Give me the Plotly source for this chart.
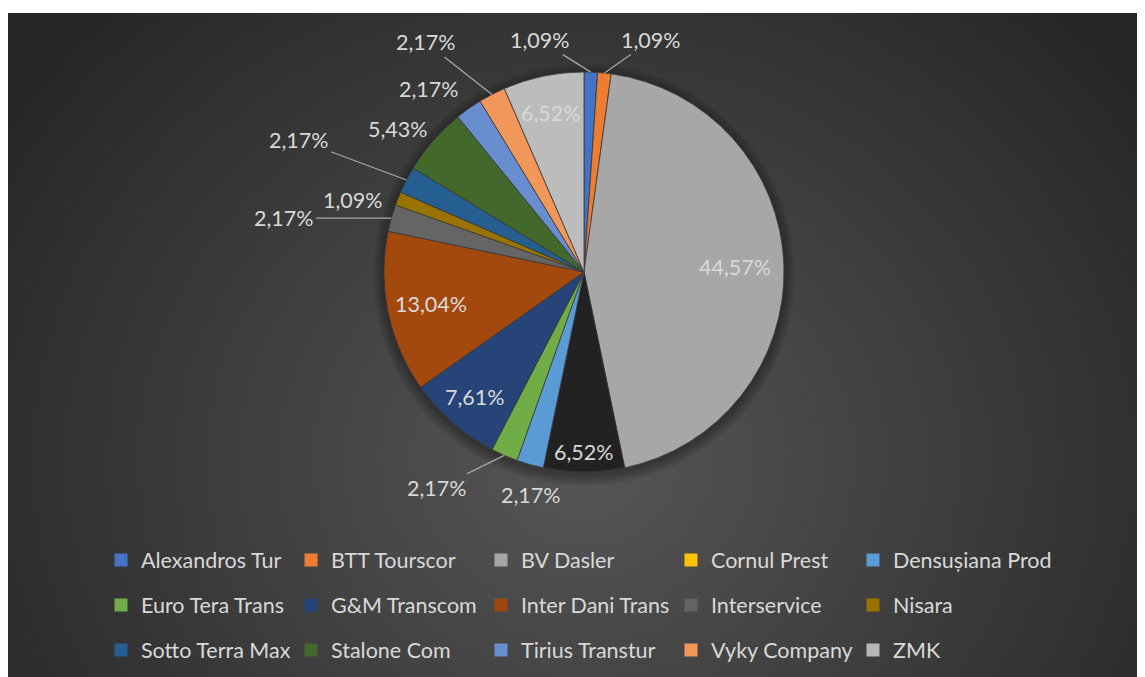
import base64
import math
import struct
import zlib

import numpy as np
import plotly.graph_objects as go

companies = ["Alexandros Tur", "BTT Tourscor", "BV Dasler", "Cornul Prest", "Densușiana Prod",
             "Euro Tera Trans", "G&M Transcom", "Inter Dani Trans", "Interservice", "Nisara",
             "Sotto Terra Max", "Stalone Com", "Tirius Transtur", "Vyky Company", "ZMK"]
counts = [1, 1, 41, 6, 2, 2, 7, 12, 2, 1, 2, 5, 2, 2, 6]
slice_colors = ["#4472C4", "#ED7D31", "#A7A7A7", "#222222", "#5B9BD5",
                "#70AD47", "#264478", "#A3490E", "#656565", "#997300",
                "#255E91", "#43682B", "#698ED0", "#F1975A", "#BCBCBC"]
legend_colors = ["#4472C4", "#ED7D31", "#A5A5A5", "#FFC000", "#5B9BD5",
                 "#70AD47", "#264478", "#9E480E", "#636363", "#997300",
                 "#255E91", "#43682B", "#698ED0", "#F1975A", "#B7B7B7"]

# label placement (style): inside labels -> fraction of radius along slice middle,
# outside labels -> pixel offset from the slice edge, with / without leader line
inside_r = {"BV Dasler": 0.755, "Cornul Prest": 0.9, "G&M Transcom": 0.83,
            "Inter Dani Trans": 0.78, "ZMK": 0.81}
outside_off = {"Alexandros Tur": (-51, -32, True), "BTT Tourscor": (47, -33, True),
               "Densușiana Prod": (1, 30, False), "Euro Tera Trans": (-67, 33, True),
               "Interservice": (-107, 0, True), "Nisara": (-45, 1, False),
               "Sotto Terra Max": (-107, -40, True), "Stalone Com": (-35, -12, False),
               "Tirius Transtur": (-40, -20, False), "Vyky Company": (-66, -52, True)}

TXT = "#D9D9D9"
FONT = "Lato"
W, H = 1145, 677
CX, CY, R = 576, 264, 200   # pie centre / radius in figure pixels


def background_png(w=229, h=133):
    # radial dark-grey gradient like the Excel chart style
    yy, xx = np.mgrid[0:h, 0:w]
    cx, cy = 0.50 * w, 0.66 * h
    d = np.sqrt(((xx - cx) / (0.62 * w)) ** 2 + ((yy - cy) / (0.95 * h)) ** 2)
    v = np.clip(0x57 - (0x57 - 0x26) * d, 0x26, 0x57).astype(np.uint8)
    rgb = np.stack([v, v, v], axis=-1)
    raw = b"".join(b"\x00" + rgb[r].tobytes() for r in range(h))

    def chunk(tag, data):
        c = struct.pack(">I", len(data)) + tag + data
        return c + struct.pack(">I", zlib.crc32(tag + data) & 0xFFFFFFFF)

    png = (b"\x89PNG\r\n\x1a\n" + chunk(b"IHDR", struct.pack(">IIBBBBB", w, h, 8, 2, 0, 0, 0))
           + chunk(b"IDAT", zlib.compress(raw, 9)) + chunk(b"IEND", b""))
    return "data:image/png;base64," + base64.b64encode(png).decode()


fig = go.Figure()

fig.add_trace(go.Pie(
    labels=companies,
    values=counts,
    sort=False,
    direction="clockwise",
    rotation=0,
    marker=dict(colors=slice_colors, line=dict(color="#3a3a3a", width=0.8)),
    textinfo="none",
    domain=dict(x=[(CX - R) / W, (CX + R) / W], y=[1 - (CY + R) / H, 1 - (CY - R) / H]),
    showlegend=False,
    hoverinfo="label+percent",
))

# data labels, placed from each slice's middle angle
total = sum(counts)
annotations = []
cum = 0
for name, c in zip(companies, counts):
    mid = (cum + c / 2) / total * 2 * math.pi
    cum += c
    txt = f"{c / total * 100:.2f}%".replace(".", ",")
    if name in inside_r:
        f = inside_r[name]
        px_, py_ = CX + f * R * math.sin(mid), CY - f * R * math.cos(mid)
        annotations.append(dict(x=px_ / W, y=1 - py_ / H, xref="paper", yref="paper",
                                text=txt, showarrow=False, xanchor="center", yanchor="middle",
                                font=dict(family=FONT, size=21.5, color=TXT)))
    else:
        dx, dy, line = outside_off[name]
        px_, py_ = CX + R * math.sin(mid), CY - R * math.cos(mid)
        annotations.append(dict(x=px_ / W, y=1 - py_ / H, xref="paper", yref="paper",
                                text=txt, showarrow=True, ax=dx, ay=dy,
                                arrowhead=0, arrowwidth=1.3, standoff=0,
                                arrowcolor="#A6A6A6" if line else "rgba(0,0,0,0)",
                                font=dict(family=FONT, size=21.5, color=TXT)))

# soft shadow around the pie
shapes = []
for k in range(6):
    rr = R + 1 + 2 * k
    shapes.append(dict(type="circle", xref="paper", yref="paper", layer="below",
                       x0=(CX - rr) / W, x1=(CX + rr) / W,
                       y0=1 - (CY + 3 + rr) / H, y1=1 - (CY + 3 - rr) / H,
                       fillcolor="rgba(0,0,0,0.06)", line=dict(width=0)))

# legend: 3 rows of 5 from dummy square markers; columns 1-4 and column 5 are separate legends
legend_rows_y = [552, 597, 642]
leg_style = dict(orientation="h", xanchor="left", yanchor="middle",
                 bgcolor="rgba(0,0,0,0)", font=dict(family=FONT, size=21.5, color=TXT),
                 entrywidthmode="pixels", traceorder="normal")
legend_layout = {}
for i, (name, col) in enumerate(zip(companies, legend_colors)):
    row, colpos = divmod(i, 5)
    last = colpos == 4
    lid = 2 * row + (1 if last else 0)
    key = "legend" if lid == 0 else f"legend{lid + 1}"
    if key not in legend_layout:
        legend_layout[key] = dict(y=1 - legend_rows_y[row] / H,
                                  x=(845 if last else 93) / W,
                                  entrywidth=230 if last else 145, **leg_style)
    fig.add_trace(go.Scatter(
        x=[None], y=[None], mode="markers", name=name,
        marker=dict(symbol="square", size=13, color=col),
        legend=key, showlegend=True,
    ))

fig.update_layout(
    width=W, height=H,
    margin=dict(l=0, r=0, t=0, b=0),
    paper_bgcolor="white",
    plot_bgcolor="rgba(0,0,0,0)",
    xaxis=dict(visible=False),
    yaxis=dict(visible=False),
    annotations=annotations,
    shapes=shapes,
    images=[dict(source=background_png(), xref="paper", yref="paper",
                 x=0, y=1 - 5 / H, sizex=1, sizey=1 - 5 / H,
                 xanchor="left", yanchor="top", sizing="stretch", layer="below")],
    **legend_layout,
)

fig.write_html("out.html")
